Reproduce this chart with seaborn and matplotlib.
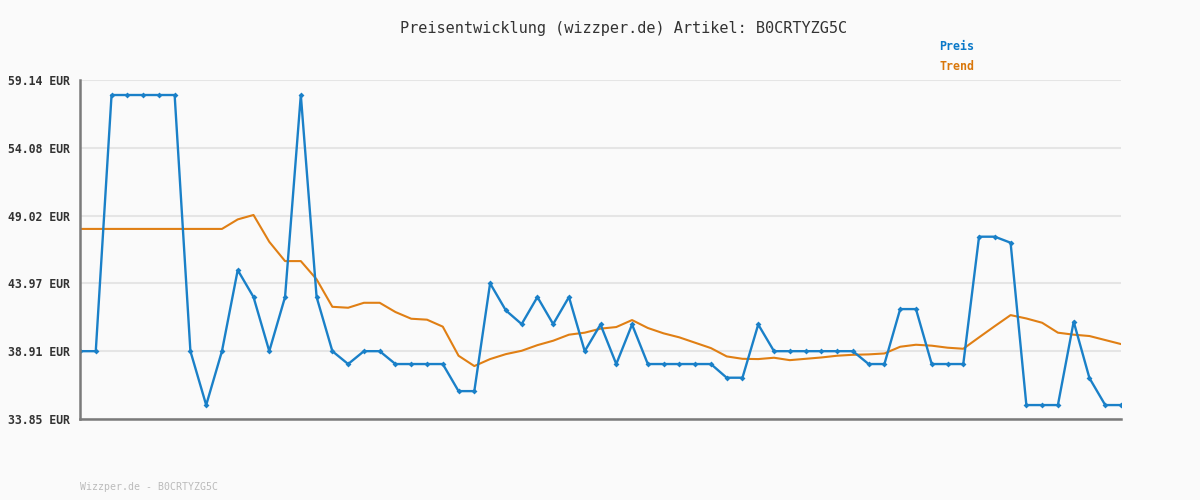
import matplotlib
matplotlib.use("Agg")
import matplotlib.pyplot as plt
import seaborn as sns
import numpy as np
import pandas as pd

# Preisverlauf
preis = [38.91, 38.91, 58.02, 58.02, 58.02, 58.02, 58.02, 38.91, 34.89, 38.91,
         44.96, 42.95, 38.91, 42.95, 58.02, 42.95, 38.91, 37.95, 38.91, 38.91,
         37.95, 37.95, 37.95, 37.95, 35.93, 35.93, 43.97, 41.95, 40.93, 42.95,
         40.93, 42.95, 38.91, 40.90, 37.95, 40.90, 37.95, 37.95, 37.95, 37.95,
         37.95, 36.93, 36.93, 40.90, 38.91, 38.91, 38.91, 38.91, 38.91, 38.91,
         37.95, 37.95, 42.05, 42.05, 37.95, 37.95, 37.95, 47.45, 47.45, 47.00,
         34.89, 34.89, 34.89, 41.11, 36.90, 34.89, 34.89]
trend = [48.03, 48.03, 48.03, 48.03, 48.03, 48.03, 48.03, 48.03, 48.03, 48.03,
         48.74, 49.07, 47.07, 45.63, 45.63, 44.27, 42.22, 42.15, 42.52, 42.52,
         41.83, 41.33, 41.26, 40.74, 38.57, 37.80, 38.32, 38.69, 38.94, 39.36,
         39.69, 40.14, 40.29, 40.59, 40.71, 41.23, 40.64, 40.24, 39.94, 39.54,
         39.14, 38.52, 38.34, 38.32, 38.42, 38.24, 38.34, 38.44, 38.57, 38.64,
         38.67, 38.74, 39.24, 39.39, 39.32, 39.17, 39.09, 39.94, 40.78, 41.60,
         41.35, 41.03, 40.29, 40.14, 40.04, 39.74, 39.44]
y_ticks = [33.85, 38.91, 43.97, 49.02, 54.08, 59.14]
artikel = "B0CRTYZG5C"

BG = "#fafafa"
BLAU = "#1a80c8"
ORANGE = "#e07f14"
MONO = "DejaVu Sans Mono"

df = pd.DataFrame({"idx": np.arange(len(preis)), "Preis": preis, "Trend": trend})

sns.set_style("white")
plt.rcParams["font.family"] = [MONO]

fig = plt.figure(figsize=(12, 5), dpi=100, facecolor=BG)
ax = fig.add_axes([80 / 1200, 1 - 419 / 500, (1121 - 80) / 1200, (419 - 80) / 500])
ax.set_facecolor(BG)

sns.lineplot(data=df, x="idx", y="Trend", ax=ax, color=ORANGE, linewidth=1.5, zorder=3)
sns.lineplot(data=df, x="idx", y="Preis", ax=ax, color=BLAU, linewidth=1.7,
             marker="D", markersize=3, markeredgewidth=0, zorder=4)

ax.set_xlim(0, len(preis) - 1)
ax.set_ylim(y_ticks[0], y_ticks[-1])
ax.set_yticks(y_ticks)
ax.set_yticklabels([f"{v:.2f} EUR" for v in y_ticks], fontsize=8.3,
                   fontweight="bold", color="#333333")
ax.set_xticks([])
ax.set_xlabel("")
ax.set_ylabel("")
ax.tick_params(axis="y", length=0, pad=7)
ax.grid(axis="y", color="#e5e5e5", linewidth=1.5, zorder=0)
for s in ["top", "right"]:
    ax.spines[s].set_visible(False)
for s in ["left", "bottom"]:
    ax.spines[s].set_color("#7a7a7a")
    ax.spines[s].set_linewidth(1.8)
ax.spines["left"].set_zorder(5)

fig.text(624 / 1200, 1 - 28 / 500, f"Preisentwicklung (wizzper.de) Artikel: {artikel}",
         ha="center", va="center", fontsize=11, color="#333333")
fig.text(974 / 1200, 1 - 47 / 500, "Preis", ha="right", va="center",
         fontsize=8.4, fontweight="bold", color="#0a78c8")
fig.text(974 / 1200, 1 - 67 / 500, "Trend", ha="right", va="center",
         fontsize=8.4, fontweight="bold", color="#d9770b")
fig.text(80 / 1200, 1 - 487 / 500, f"Wizzper.de - {artikel}", ha="left", va="center",
         fontsize=7.1, color="#bbbbbb")

fig.savefig("out.png", dpi=100, facecolor=BG)
